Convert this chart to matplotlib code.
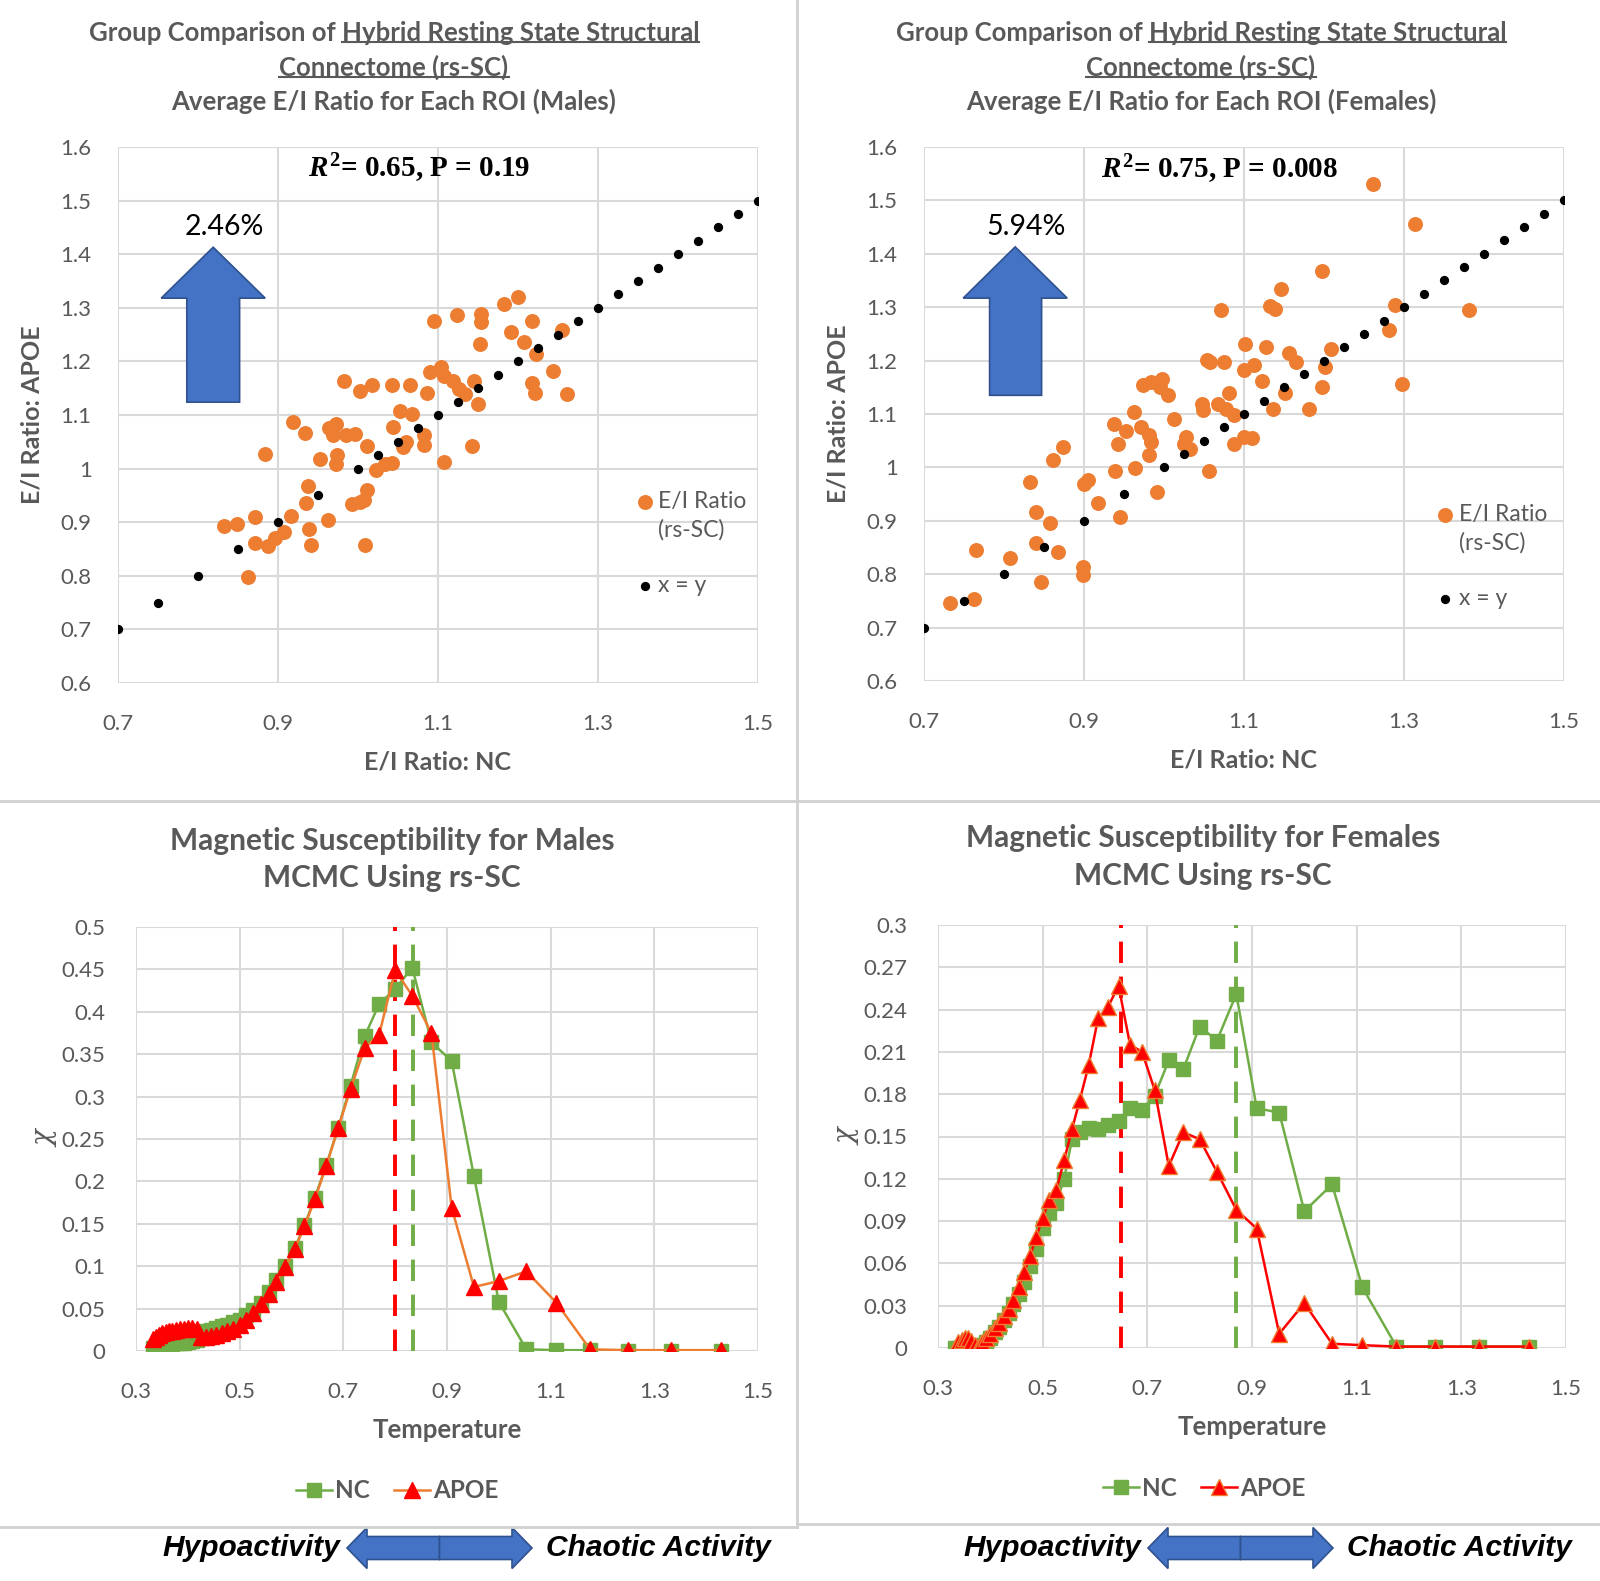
import matplotlib
matplotlib.use("Agg")
import matplotlib.pyplot as plt
from matplotlib.patches import Polygon
from matplotlib.lines import Line2D
from matplotlib.ticker import FuncFormatter

# ---- data ----
diag = [0.7, 0.75, 0.8, 0.85, 0.9, 0.95, 1.0, 1.025, 1.05, 1.075, 1.1, 1.125, 1.15, 1.175,
        1.2, 1.225, 1.25, 1.275, 1.3, 1.325, 1.35, 1.375, 1.4, 1.425, 1.45, 1.475, 1.5]

male_nc_ratio = [1.200, 1.183, 1.095, 1.124, 1.154, 1.154, 1.218, 1.255, 1.191, 1.207,
                 1.153, 1.223, 1.244, 1.217, 1.221, 1.261, 1.090, 1.104, 1.107, 1.119,
                 1.126, 1.134, 1.145, 1.150, 1.086, 0.983, 1.003, 1.017, 1.042, 1.065,
                 1.053, 1.068, 1.044, 0.919, 0.934, 0.964, 0.972, 0.969, 0.985, 0.996,
                 1.011, 1.056, 1.060, 1.083, 1.083, 1.142, 0.884, 0.952, 0.974, 0.972,
                 1.023, 1.034, 1.042, 1.108, 0.937, 0.935, 1.011, 1.008, 0.992, 1.002,
                 0.833, 0.849, 0.871, 0.916, 0.939, 0.963, 0.871, 0.887, 0.896, 0.907,
                 0.941, 1.009, 0.863]
male_apoe_ratio = [1.320, 1.307, 1.276, 1.287, 1.289, 1.273, 1.276, 1.259, 1.255, 1.236,
                   1.233, 1.214, 1.183, 1.159, 1.141, 1.139, 1.180, 1.190, 1.173, 1.163,
                   1.149, 1.139, 1.163, 1.121, 1.141, 1.164, 1.144, 1.156, 1.156, 1.156,
                   1.108, 1.101, 1.077, 1.087, 1.066, 1.075, 1.083, 1.063, 1.063, 1.065,
                   1.042, 1.040, 1.049, 1.063, 1.044, 1.042, 1.028, 1.018, 1.025, 1.008,
                   0.997, 1.008, 1.011, 1.013, 0.968, 0.935, 0.961, 0.942, 0.934, 0.937,
                   0.893, 0.896, 0.910, 0.911, 0.887, 0.904, 0.861, 0.855, 0.870, 0.882,
                   0.858, 0.858, 0.798]

fem_nc_ratio = [1.261, 1.314, 1.198, 1.146, 1.133, 1.139, 1.071, 1.289, 1.381, 1.281,
                1.101, 1.127, 1.156, 1.165, 1.209, 1.201, 1.054, 1.057, 1.075, 1.100,
                1.112, 1.123, 1.151, 1.197, 1.297, 0.974, 0.984, 0.998, 0.995, 1.005,
                1.081, 1.047, 1.049, 1.068, 1.078, 1.088, 1.136, 1.181, 0.963, 1.013,
                0.937, 0.952, 0.971, 0.981, 0.984, 0.943, 0.981, 1.028, 1.025, 1.032,
                1.087, 1.100, 1.110, 0.874, 0.861, 0.939, 0.964, 1.056, 0.832, 0.900,
                0.905, 0.917, 0.991, 0.945, 0.840, 0.858, 0.840, 0.868, 0.765, 0.808,
                0.899, 0.899, 0.846, 0.733, 0.763]
fem_apoe_ratio = [1.530, 1.456, 1.368, 1.334, 1.303, 1.297, 1.294, 1.305, 1.294, 1.258,
                  1.231, 1.226, 1.215, 1.197, 1.222, 1.188, 1.202, 1.197, 1.197, 1.183,
                  1.192, 1.161, 1.140, 1.150, 1.156, 1.154, 1.159, 1.166, 1.150, 1.135,
                  1.140, 1.119, 1.107, 1.119, 1.109, 1.098, 1.109, 1.109, 1.104, 1.091,
                  1.081, 1.069, 1.075, 1.060, 1.048, 1.043, 1.024, 1.057, 1.043, 1.034,
                  1.043, 1.057, 1.055, 1.038, 1.013, 0.994, 0.999, 0.994, 0.972, 0.969,
                  0.976, 0.934, 0.953, 0.908, 0.917, 0.895, 0.858, 0.842, 0.846, 0.830,
                  0.814, 0.799, 0.785, 0.747, 0.753]

temps = [0.333, 0.339, 0.345, 0.351, 0.357, 0.364, 0.370, 0.377, 0.385, 0.392,
         0.400, 0.408, 0.417, 0.426, 0.435, 0.444, 0.455, 0.465, 0.476, 0.488,
         0.500, 0.513, 0.526, 0.541, 0.556, 0.571, 0.588, 0.606, 0.625, 0.645,
         0.667, 0.690, 0.714, 0.741, 0.769, 0.800, 0.833, 0.870, 0.909, 0.952,
         1.000, 1.053, 1.111, 1.176, 1.250, 1.333, 1.429]

male_nc_chi = [0.003, 0.004, 0.005, 0.006, 0.007, 0.0075, 0.008, 0.009, 0.0095, 0.010,
               0.011, 0.012, 0.013, 0.022, 0.024, 0.025, 0.027, 0.029, 0.031, 0.034,
               0.037, 0.042, 0.048, 0.057, 0.069, 0.084, 0.100, 0.121, 0.148, 0.181,
               0.219, 0.263, 0.313, 0.371, 0.409, 0.427, 0.452, 0.364, 0.342, 0.206,
               0.058, 0.002, 0.001, 0.001, 0.0, 0.0, 0.0]
male_apoe_chi = [0.014, 0.017, 0.019, 0.021, 0.022, 0.023, 0.024, 0.025, 0.026, 0.026,
                 0.027, 0.027, 0.026, 0.0165, 0.017, 0.018, 0.019, 0.021, 0.0236, 0.026,
                 0.031, 0.037, 0.045, 0.055, 0.067, 0.081, 0.099, 0.120, 0.147, 0.179,
                 0.218, 0.263, 0.309, 0.357, 0.373, 0.449, 0.419, 0.375, 0.169, 0.0755,
                 0.0825, 0.094, 0.057, 0.002, 0.001, 0.001, 0.001]

fem_nc_chi = [0.0, 0.0, 0.0, 0.0, 0.0, 0.0, 0.0, 0.001, 0.002, 0.004,
              0.007, 0.011, 0.015, 0.020, 0.025, 0.031, 0.038, 0.047, 0.058, 0.070,
              0.085, 0.096, 0.103, 0.120, 0.148, 0.153, 0.156, 0.155, 0.158, 0.161,
              0.170, 0.169, 0.179, 0.204, 0.198, 0.228, 0.218, 0.251, 0.170, 0.167,
              0.097, 0.116, 0.043, 0.001, 0.001, 0.001, 0.001]
fem_apoe_chi = [0.0, 0.004, 0.006, 0.007, 0.007, 0.005, 0.002, 0.001, 0.004, 0.007,
                0.010, 0.014, 0.018, 0.023, 0.028, 0.034, 0.0435, 0.054, 0.0654, 0.079,
                0.0925, 0.105, 0.112, 0.133, 0.155, 0.176, 0.2007, 0.234, 0.242, 0.257,
                0.215, 0.210, 0.183, 0.129, 0.153, 0.148, 0.125, 0.098, 0.0847, 0.0101,
                0.0318, 0.003, 0.002, 0.001, 0.001, 0.001, 0.001]

male_tc = {"APOE": 0.80, "NC": 0.835}
fem_tc = {"APOE": 0.65, "NC": 0.87}

scatter_xticks = [0.7, 0.9, 1.1, 1.3, 1.5]
scatter_yticks = [0.6, 0.7, 0.8, 0.9, 1.0, 1.1, 1.2, 1.3, 1.4, 1.5, 1.6]
temp_ticks = [0.3, 0.5, 0.7, 0.9, 1.1, 1.3, 1.5]
male_chi_ticks = [0, 0.05, 0.1, 0.15, 0.2, 0.25, 0.3, 0.35, 0.4, 0.45, 0.5]
fem_chi_ticks = [0, 0.03, 0.06, 0.09, 0.12, 0.15, 0.18, 0.21, 0.24, 0.27, 0.3]

# ---- style ----
W, H = 1600, 1581
GRAY = "#595959"
GRID = "#D9D9D9"
ORANGE = "#ED7D31"
GREEN = "#70AD47"
RED = "#FF0000"
BLUE = "#4472C4"
BLUE_EDGE = "#2F528F"

plt.rcParams["font.family"] = ["Lato", "DejaVu Sans"]
plt.rcParams["mathtext.fontset"] = "custom"
plt.rcParams["mathtext.it"] = "Liberation Serif:italic:bold"
plt.rcParams["mathtext.rm"] = "Liberation Serif:bold"

fmt = FuncFormatter(lambda v, p: f"{round(v, 3):g}")


def rect(l, t, r, b):
    return [l / W, 1 - b / H, (r - l) / W, (b - t) / H]


def style_axes(ax, xticks, yticks, pad):
    ax.set_xticks(xticks)
    ax.set_yticks(yticks)
    ax.xaxis.set_major_formatter(fmt)
    ax.yaxis.set_major_formatter(fmt)
    ax.grid(True, color=GRID, lw=1.5)
    ax.set_axisbelow(True)
    for s in ax.spines.values():
        s.set_visible(False)
    ax.tick_params(length=0, labelsize=16, colors=GRAY, pad=pad)


fig = plt.figure(figsize=(W / 100, H / 100), dpi=100)


def scatter_panel(box, nc, apoe, stat, stat_xy, pct, pct_xy, arrow, leg_anchor):
    ax = fig.add_axes(rect(*box))
    h1 = ax.scatter(nc, apoe, s=95, color=ORANGE, zorder=3)
    h2 = ax.scatter(diag, diag, s=32, color="black", zorder=4)
    ax.set_xlim(0.7, 1.5)
    ax.set_ylim(0.6, 1.6)
    style_axes(ax, scatter_xticks, scatter_yticks, 19)
    ax.tick_params(axis="x", pad=22)
    ax.set_xlabel("E/I Ratio: NC", fontsize=18, fontweight="bold", color=GRAY, labelpad=12)
    ax.set_ylabel("E/I Ratio: APOE", fontsize=18, fontweight="bold", color=GRAY, labelpad=12)
    ax.text(*stat_xy, stat, fontsize=21, family="Liberation Serif", fontweight="bold",
            ha="center", va="center")
    ax.text(*pct_xy, pct, fontsize=20.5, ha="center", va="center", color="black")
    x0, x1, s0, s1, tip, base, bottom = arrow
    xm = (x0 + x1) / 2
    ax.add_patch(Polygon([(xm, tip), (x1, base), (s1, base), (s1, bottom), (s0, bottom),
                          (s0, base), (x0, base)], closed=True, fc=BLUE, ec=BLUE_EDGE,
                         lw=1.2, zorder=5))
    blank = Line2D([], [], alpha=0)
    ax.legend([h1, blank, blank, h2], ["E/I Ratio", "(rs-SC)", " ", "x = y"],
              loc="upper left", bbox_to_anchor=leg_anchor, frameon=False, fontsize=16.5,
              labelcolor=GRAY, handletextpad=0.0, labelspacing=0.3, handlelength=1.2,
              borderaxespad=0)
    return ax


scatter_panel((118, 147, 758, 683), male_nc_ratio, male_apoe_ratio,
              r"$R^{2}$= 0.65, P = 0.19", (1.076, 1.56), "2.46%", (0.833, 1.45),
              (0.754, 0.884, 0.786, 0.852, 1.413, 1.318, 1.124), (0.787, 0.375))
scatter_panel((924, 147, 1564, 681), fem_nc_ratio, fem_apoe_ratio,
              r"$R^{2}$= 0.75, P = 0.008", (1.069, 1.558), "5.94%", (0.828, 1.45),
              (0.749, 0.879, 0.782, 0.847, 1.413, 1.317, 1.135), (0.779, 0.348))


def chi_panel(box, nc, apoe, ylim, yticks, tc, apoe_line, leg_xy):
    ax = fig.add_axes(rect(*box))
    ax.axvline(tc["APOE"], color=RED, lw=2.8, ls=(0, (5.5, 3.5)), zorder=2)
    ax.axvline(tc["NC"], color=GREEN, lw=2.8, ls=(0, (5.5, 3.5)), zorder=2)
    l1, = ax.plot(temps, nc, color=GREEN, lw=1.8, marker="s", ms=10.5, mfc=GREEN,
                  mec=GREEN, label="NC", zorder=3)
    l2, = ax.plot(temps, apoe, color=apoe_line, lw=1.8, marker="^", ms=11.5, mfc=RED,
                  mec=ORANGE if apoe_line == RED else RED, mew=1, label="APOE", zorder=4)
    ax.set_xlim(0.3, 1.5)
    ax.set_ylim(*ylim)
    style_axes(ax, temp_ticks, yticks, 22)
    ax.set_xlabel("Temperature", fontsize=18.5, fontweight="bold", color=GRAY, labelpad=12)
    ax.set_ylabel("χ", fontsize=20, family="DejaVu Serif", style="italic", color=GRAY,
                  labelpad=2)
    fig.legend([l1, l2], ["NC", "APOE"], loc="center",
               bbox_to_anchor=(leg_xy[0] / W, 1 - leg_xy[1] / H), ncol=2, frameon=False,
               prop={"size": 17.5, "weight": "bold"}, labelcolor=GRAY, handlelength=1.5,
               handletextpad=0.1, columnspacing=1.0)
    return ax


chi_panel((136, 927, 758, 1351), male_nc_chi, male_apoe_chi, (0, 0.5), male_chi_ticks,
          male_tc, ORANGE, (397, 1491))
chi_panel((938, 925, 1566, 1348), fem_nc_chi, fem_apoe_chi, (0, 0.3), fem_chi_ticks,
          fem_tc, RED, (1204, 1488))

# ---- titles ----
title_kw = dict(fontsize=18.5, fontweight="bold", color=GRAY, ha="center", va="center")
top_titles = [(394, "Males"), (1201, "Females")]
for cx, who in top_titles:
    t1 = fig.text(cx / W, 1 - 33 / H, "Group Comparison of Hybrid Resting State Structural",
                  **title_kw)
    t2 = fig.text(cx / W, 1 - 67 / H, "Connectome (rs-SC)", **title_kw)
    fig.text(cx / W, 1 - 101 / H, f"Average E/I Ratio for Each ROI ({who})", **title_kw)
    fig.canvas.draw()
    r = fig.canvas.get_renderer()
    tmp = fig.text(0, 0, "Hybrid Resting State Structural", **title_kw)
    part_w = tmp.get_window_extent(r).width
    tmp.remove()
    b1 = t1.get_window_extent(r)
    b2 = t2.get_window_extent(r)
    for (xa, xb, y) in [(b1.x1 - part_w, b1.x1, b1.y0 + 3), (b2.x0, b2.x1, b2.y0 + 3)]:
        fig.add_artist(Line2D([xa / W, xb / W], [y / H, y / H], color=GRAY, lw=1.5,
                              transform=fig.transFigure))

bt_kw = dict(fontsize=21.5, fontweight="bold", color=GRAY, ha="center", va="center")
fig.text(392 / W, 1 - 841 / H, "Magnetic Susceptibility for Males", **bt_kw)
fig.text(392 / W, 1 - 878 / H, "MCMC Using rs-SC", **bt_kw)
fig.text(1203 / W, 1 - 838 / H, "Magnetic Susceptibility for Females", **bt_kw)
fig.text(1203 / W, 1 - 876 / H, "MCMC Using rs-SC", **bt_kw)

# ---- panel separators ----
sep = dict(color="#D0D0D0", lw=2, transform=fig.transFigure)
fig.add_artist(Line2D([797 / W, 797 / W], [1, 1 - 1527 / H], **sep))
fig.add_artist(Line2D([0, 1], [1 - 801 / H, 1 - 801 / H], **sep))
fig.add_artist(Line2D([0, 797 / W], [1 - 1527 / H, 1 - 1527 / H], **sep))
fig.add_artist(Line2D([797 / W, 1], [1 - 1524 / H, 1 - 1524 / H], **sep))

# ---- activity arrows ----
act_kw = dict(fontsize=21.5, fontweight="bold", style="italic", color="black",
              family="Liberation Sans", va="center")


def px(x, y):
    return (x / W, 1 - y / H)


for x0, x1, yc in [(347, 532, 1548), (1148, 1333, 1548)]:
    xm = (x0 + x1) / 2
    hd, hh, sh = 20, 20.5, 11.5
    left = [px(x0, yc), px(x0 + hd, yc - hh), px(x0 + hd, yc - sh), px(xm, yc - sh),
            px(xm, yc + sh), px(x0 + hd, yc + sh), px(x0 + hd, yc + hh)]
    right = [px(x1, yc), px(x1 - hd, yc - hh), px(x1 - hd, yc - sh), px(xm, yc - sh),
             px(xm, yc + sh), px(x1 - hd, yc + sh), px(x1 - hd, yc + hh)]
    for pts in (left, right):
        fig.add_artist(Polygon(pts, closed=True, fc=BLUE, ec=BLUE_EDGE, lw=1.2,
                               transform=fig.transFigure))
    fig.text((x0 - 7) / W, 1 - yc / H, "Hypoactivity", ha="right", **act_kw)
    fig.text((x1 + 14) / W, 1 - yc / H, "Chaotic Activity", ha="left", **act_kw)

fig.savefig("out.png", dpi=100, facecolor="white")
